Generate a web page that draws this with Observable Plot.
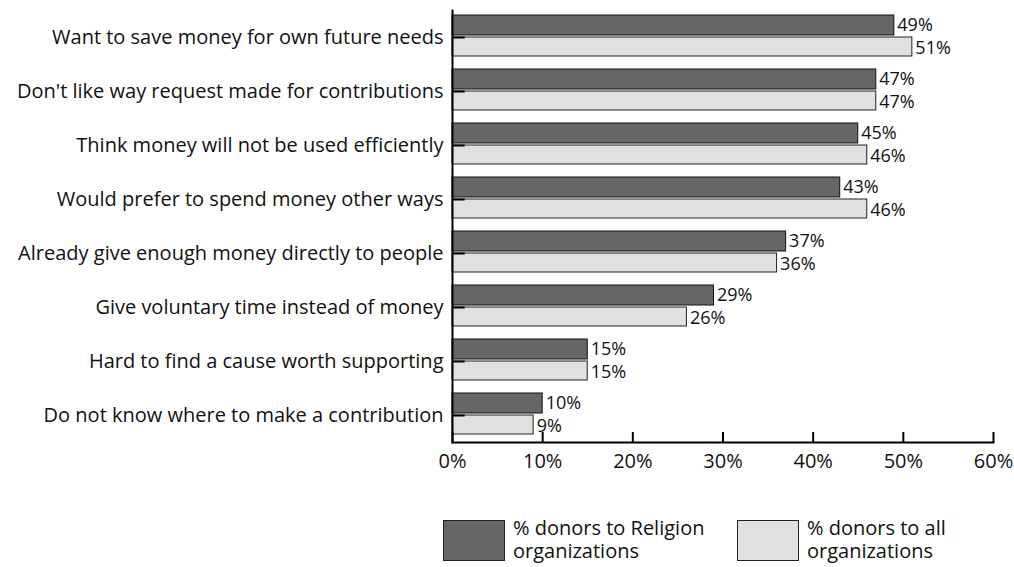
<!DOCTYPE html>
<html><head><meta charset="utf-8">
<script src="https://cdn.jsdelivr.net/npm/d3@7"></script>
<script src="https://cdn.jsdelivr.net/npm/@observablehq/plot@0.6"></script>
<style>
body{margin:0;background:#fff;font-family:"Open Sans",sans-serif;color:#111;}
#wrap{position:relative;width:1014px;height:567px;overflow:hidden;}
.leg{position:absolute;top:520px;display:flex;align-items:flex-start;}
.sw{width:62px;height:41px;border:1px solid #222;box-sizing:border-box;}
.lt{margin-left:8px;font-size:20px;line-height:23px;white-space:pre-line;margin-top:-4px;}
</style></head><body>
<div id="wrap"><div id="chart"></div></div>
<script>
const categories = [
  "Want to save money for own future needs",
  "Don't like way request made for contributions",
  "Think money will not be used efficiently",
  "Would prefer to spend money other ways",
  "Already give enough money directly to people",
  "Give voluntary time instead of money",
  "Hard to find a cause worth supporting",
  "Do not know where to make a contribution"
];
const religionValues = [49, 47, 45, 43, 37, 29, 15, 10];
const allOrgValues = [51, 47, 46, 46, 36, 26, 15, 9];
const xTicks = [0, 10, 20, 30, 40, 50, 60];
const seriesNames = ["% donors to Religion\norganizations", "% donors to all\norganizations"];
const seriesColors = ["#666666", "#e0e0e0"];

const relData = categories.map((c, i) => ({cat: c, value: religionValues[i]}));
const allData = categories.map((c, i) => ({cat: c, value: allOrgValues[i]}));

const chart = Plot.plot({
  width: 1014, height: 480,
  marginLeft: 452, marginRight: 21, marginTop: 10, marginBottom: 38,
  x: {domain: [0, 60], ticks: xTicks, tickFormat: d => d + "%"},
  y: {domain: categories, padding: 0},
  style: {fontFamily: "'Open Sans', sans-serif", fontSize: "20px", color: "#111", background: "#fff"},
  marks: [
    Plot.barX(relData, {x: "value", y: "cat", fill: seriesColors[0], stroke: "#111", insetTop: 5, insetBottom: 29}),
    Plot.barX(allData, {x: "value", y: "cat", fill: seriesColors[1], stroke: "#222", insetTop: 27, insetBottom: 8}),
    Plot.text(relData, {x: "value", y: "cat", text: d => d.value + "%", textAnchor: "start", dx: 3, dy: -12, fontSize: 18}),
    Plot.text(allData, {x: "value", y: "cat", text: d => d.value + "%", textAnchor: "start", dx: 3, dy: 11, fontSize: 18}),
    Plot.ruleY(categories, {y: d => d, x1: 0, x2: 1.4, stroke: "#000", strokeWidth: 2}),
    Plot.axisY({tickSize: 0, tickPadding: 9, fontSize: 20, label: null}),
    Plot.axisX({ticks: xTicks, tickFormat: d => d + "%", tickSize: -10, tickPadding: 21, fontSize: 20, strokeWidth: 2, stroke: "#000", label: null}),
    Plot.frame({anchor: "left", strokeWidth: 2, stroke: "#000"}),
    Plot.frame({anchor: "bottom", strokeWidth: 2, stroke: "#000"})
  ]
});
document.getElementById("chart").appendChild(chart);

const wrap = document.getElementById("wrap");
const legLefts = [443, 737];
seriesNames.forEach((name, i) => {
  const d = document.createElement("div");
  d.className = "leg";
  d.style.left = legLefts[i] + "px";
  const sw = document.createElement("div");
  sw.className = "sw";
  sw.style.background = seriesColors[i];
  const t = document.createElement("div");
  t.className = "lt";
  t.textContent = name;
  d.appendChild(sw); d.appendChild(t);
  wrap.appendChild(d);
});
</script>
</body></html>
